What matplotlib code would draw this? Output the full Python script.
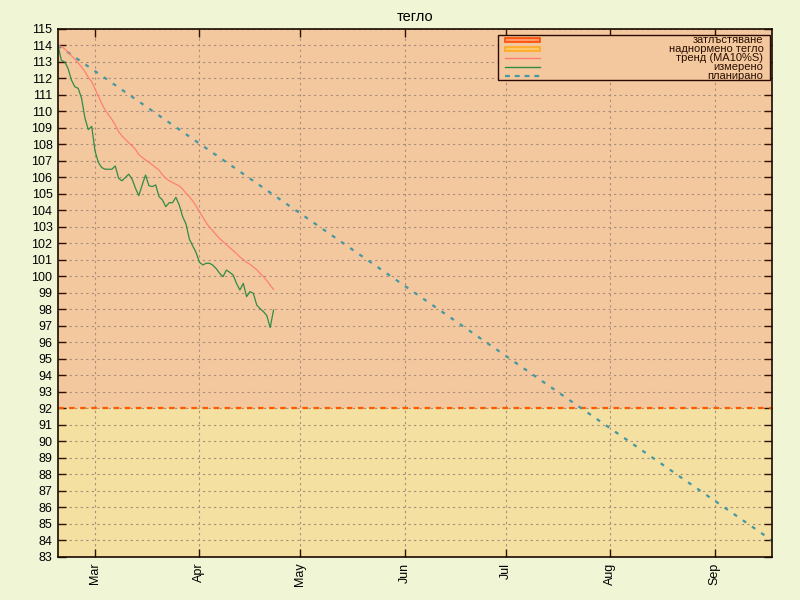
#!/usr/bin/env python3
"""Графика на теглото: измерено, тренд и планирано."""

import matplotlib

matplotlib.use("Agg")
import matplotlib.dates as mdates
import matplotlib.pyplot as plt
import numpy as np
from matplotlib.lines import Line2D
from matplotlib.patches import Rectangle

START = "2015-02-18"
END = "2015-09-18"

# измерено (дневни стойности от START)
measured = [
    114.0, 113.1, 113.0, 112.6, 111.9, 111.5, 111.4, 110.8, 109.6, 108.9,
    109.1, 107.6, 106.9, 106.6, 106.5, 106.5, 106.5, 106.7, 105.95, 105.8,
    106.0, 106.2, 105.9, 105.35, 104.9, 105.55, 106.15, 105.5, 105.45, 105.55,
    104.84, 104.64, 104.23, 104.47, 104.47, 104.8, 104.33, 103.63, 103.18, 102.27,
    101.85, 101.45, 100.86, 100.7, 100.8, 100.8, 100.68, 100.47, 100.19, 99.99,
    100.39, 100.25, 100.09, 99.58, 99.18, 99.58, 98.78, 99.08, 98.98, 98.27,
    98.05, 97.87, 97.63, 96.9, 97.97,
]
# тренд (MA10%S)
trend = [
    114.03, 113.93, 113.79, 113.59, 113.38, 113.18, 112.94, 112.7, 112.41, 112.07,
    111.81, 111.36, 110.92, 110.47, 110.09, 109.79, 109.52, 109.18, 108.78, 108.52,
    108.31, 108.11, 107.91, 107.71, 107.38, 107.22, 107.06, 106.92, 106.76, 106.6,
    106.45, 106.17, 105.95, 105.81, 105.69, 105.59, 105.49, 105.3, 105.04, 104.84,
    104.58, 104.27, 103.93, 103.59, 103.26, 102.98, 102.76, 102.52, 102.3, 102.11,
    101.93, 101.75, 101.57, 101.39, 101.18, 101.02, 100.86, 100.74, 100.58, 100.41,
    100.19, 99.99, 99.75, 99.47, 99.22,
]
plan_dates = [START, END]
plan_values = [114.0, 84.0]
obesity_limit = 92.0
y_min, y_max = 83, 115

BG = "#f0f5d6"
OBESE_FILL = "#f4c89e"
OVER_FILL = "#f4e0a0"
GRID = "#a88c7c"
FONT = "Liberation Sans"

plt.rcParams["font.family"] = [FONT, "DejaVu Sans"]
plt.rcParams["font.size"] = 9

days = np.arange(np.datetime64(START), np.datetime64(START) + len(measured))
plan_x = np.array(plan_dates, dtype="datetime64[D]")

fig = plt.figure(figsize=(8, 6), dpi=100, facecolor=BG)
ax = fig.add_axes([0.0725, 0.0717, 0.8925, 0.88])
ax.set_facecolor(OVER_FILL)

ax.axhspan(obesity_limit, y_max, color=OBESE_FILL, zorder=0, lw=0)
ax.axhspan(y_min, obesity_limit, color=OVER_FILL, zorder=0, lw=0)
ax.axhline(obesity_limit, color="#ff5a00", lw=1.6, ls=(0, (2.5, 2.5)), zorder=3)

ax.plot(plan_x, plan_values, color="#4598a2", lw=1.6, ls=(0, (1.8, 3.2)), zorder=4)
ax.plot(days, trend, color="#ff8070", lw=0.9, zorder=5)
ax.plot(days, measured, color="#2f8c45", lw=0.9, zorder=6)

ax.set_xlim(np.datetime64(START), np.datetime64(END))
ax.set_ylim(y_min, y_max)
ax.set_yticks(range(y_min, y_max + 1))
ax.xaxis.set_major_locator(mdates.MonthLocator())
ax.xaxis.set_major_formatter(mdates.DateFormatter("%b"))
for lbl in ax.get_xticklabels():
    lbl.set_rotation(90)

ax.grid(True, color=GRID, ls=(0, (2, 3)), lw=0.8)
ax.set_axisbelow(False)
for line in ax.get_xgridlines() + ax.get_ygridlines():
    line.set_zorder(2)

ax.tick_params(direction="in", top=True, right=True, length=6, width=1,
               color="#301000", labelsize=9, pad=4)
for spine in ax.spines.values():
    spine.set_color("#1a0a00")
    spine.set_linewidth(1.2)
    spine.set_zorder(10)

ax.set_title("тегло", fontsize=10.5, pad=6)

# легенда в стил gnuplot
tr = ax.transAxes
x0, x1 = 0.616, 0.997
ax.add_patch(Rectangle((x0, 0.903), x1 - x0, 0.0857, transform=tr,
                       facecolor=OBESE_FILL, edgecolor="#2a0a00", lw=1, zorder=11))
labels = ["затлъстяване", "наднормено тегло", "тренд (MA10%S)", "измерено", "планирано"]
row_y = [0.979, 0.962, 0.945, 0.928, 0.911]
sx0, sx1 = 0.626, 0.675
for i, (lab, yy) in enumerate(zip(labels, row_y)):
    if i == 0:
        ax.add_patch(Rectangle((sx0, yy - 0.004), sx1 - sx0, 0.008, transform=tr,
                               facecolor="#ff9a6a", edgecolor="#ff4a00", lw=1.2, zorder=12))
    elif i == 1:
        ax.add_patch(Rectangle((sx0, yy - 0.004), sx1 - sx0, 0.008, transform=tr,
                               facecolor="#ffc86a", edgecolor="#ffaa20", lw=1.2, zorder=12))
    elif i == 2:
        ax.add_line(Line2D([sx0, sx1], [yy, yy], transform=tr, color="#ff8070", lw=1, zorder=12))
    elif i == 3:
        ax.add_line(Line2D([sx0, sx1], [yy, yy], transform=tr, color="#2f8c45", lw=1, zorder=12))
    else:
        ax.add_line(Line2D([sx0, sx1], [yy, yy], transform=tr, color="#4598a2", lw=1.6,
                           ls=(0, (2.2, 2.2)), zorder=12))
    ax.text(0.988, yy, lab, transform=tr, ha="right", va="center", fontsize=8,
            color="#2a1000", zorder=13)

fig.savefig("out.png", dpi=100, facecolor=BG)
